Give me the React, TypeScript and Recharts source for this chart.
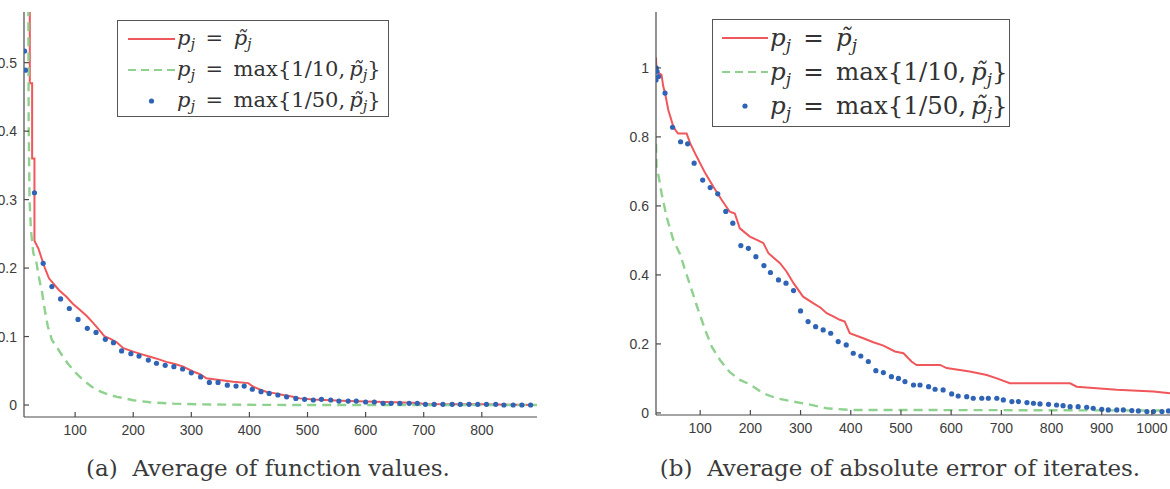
import React from 'react';
import { ComposedChart, Line, XAxis, YAxis, Legend } from 'recharts';

const RED = '#f0575a';
const GREEN = '#8fd18f';
const BLUE = '#2e63b5';
const AXIS = '#4a4a4a';
const TICK_TEXT = '#3c3c3c';
const SANS = "'Liberation Sans', 'DejaVu Sans', sans-serif";
const SERIF = "'DejaVu Serif', 'Noto Serif', serif";

// (iteration, value) pairs -- average of function values
const fnPlain = [
  [22, 0.8], [22, 0.47], [26, 0.47], [26, 0.36], [30, 0.36], [30, 0.24], [37, 0.228], [44, 0.21], [48, 0.2],
  [55, 0.185], [62, 0.178], [72, 0.168], [85, 0.158], [96, 0.148], [108, 0.139], [120, 0.13], [131, 0.12],
  [141, 0.11], [151, 0.1], [160, 0.097], [171, 0.092], [183, 0.083], [200, 0.078], [215, 0.074], [229, 0.0705],
  [243, 0.067], [257, 0.063], [272, 0.06], [286, 0.056], [303, 0.049], [315, 0.045], [326, 0.039], [345, 0.037],
  [372, 0.034], [398, 0.032], [406, 0.027], [420, 0.022], [430, 0.019], [445, 0.017], [458, 0.0146], [475, 0.012],
  [487, 0.0097], [510, 0.008], [540, 0.007], [570, 0.006], [600, 0.005], [650, 0.004], [690, 0.003], [700, 0.0015],
  [750, 0.001], [800, 0.001], [850, 0.0005], [895, 0],
];
const fnMax10 = [
  [19, 0.8], [20, 0.42], [21.5, 0.3], [24, 0.255], [28, 0.222], [33, 0.21], [38, 0.185], [43, 0.165], [48, 0.138],
  [53, 0.115], [60, 0.095], [68, 0.085], [78, 0.072], [88, 0.06], [100, 0.048], [113, 0.037], [128, 0.027],
  [143, 0.02], [158, 0.015], [172, 0.012], [200, 0.007], [229, 0.004], [270, 0.002], [315, 0.001], [400, 0.0003],
  [500, 0], [895, 0],
];
const fnMax50 = [
  [13, 0.517], [14.5, 0.489], [30, 0.31], [45, 0.207], [60, 0.173], [75, 0.155], [90, 0.141], [105, 0.125],
  [121, 0.112], [136, 0.106], [152, 0.096], [166, 0.091], [180, 0.079], [196, 0.075], [210, 0.0715], [226, 0.0657],
  [240, 0.061], [255, 0.058], [270, 0.056], [285, 0.0526], [300, 0.047], [316, 0.041], [331, 0.033], [346, 0.033],
  [362, 0.029], [377, 0.0277], [391, 0.0277], [405, 0.023], [420, 0.0195], [434, 0.017], [449, 0.0146], [464, 0.012],
  [480, 0.0097], [495, 0.0083], [510, 0.0073], [524, 0.0083], [540, 0.0073], [554, 0.0058], [570, 0.0058],
  [584, 0.0058], [600, 0.0044], [615, 0.0044], [630, 0.0024], [644, 0.0024], [659, 0.0024], [675, 0.0024],
  [689, 0.0024], [703, 0.001], [718, 0.001], [733, 0.001], [749, 0.001], [763, 0.001], [778, 0.001], [793, 0.001],
  [808, 0.001], [824, 0.001], [838, 0], [854, 0], [869, 0], [884, 0],
];

// average of absolute error of iterates
const errPlain = [
  [12, 1.03], [13, 0.99], [23, 0.98], [26.5, 0.946], [30, 0.927], [36.5, 0.878], [46.5, 0.83], [53, 0.815],
  [56, 0.81], [73, 0.81], [80, 0.782], [93, 0.743], [110, 0.695], [126, 0.656], [143, 0.617], [159, 0.583],
  [169, 0.578], [179, 0.535], [199, 0.511], [215, 0.5], [226, 0.492], [236, 0.463], [259, 0.434], [272, 0.41],
  [286, 0.376], [305, 0.337], [325, 0.318], [340, 0.305], [352, 0.289], [365, 0.28], [378, 0.27], [388, 0.265],
  [398, 0.231], [425, 0.2165], [445, 0.205], [465, 0.195], [488, 0.178], [505, 0.173], [521, 0.149], [531, 0.139],
  [578, 0.139], [591, 0.13], [637, 0.12], [671, 0.11], [691, 0.1], [717, 0.086], [837, 0.086], [850, 0.076],
  [930, 0.067], [1003, 0.062], [1036, 0.057],
];
const errMax10 = [
  [12, 0.78], [13, 0.714], [18, 0.68], [23, 0.637], [33, 0.569], [46.5, 0.501], [60, 0.46], [70, 0.414],
  [83, 0.357], [96, 0.2986], [110, 0.2406], [123, 0.192], [139.5, 0.1536], [159, 0.118], [179, 0.0957],
  [199, 0.083], [226, 0.057], [252, 0.0425], [285, 0.033], [319, 0.024], [352, 0.0135], [398, 0.0087],
  [700, 0.008], [1036, 0.007],
];
const errMax50 = [
  [12, 0.965], [12.5, 1.0], [14, 0.99], [17, 0.975], [30, 0.927], [45, 0.828], [61, 0.786], [75, 0.78],
  [88, 0.724], [105, 0.675], [120, 0.653], [135, 0.635], [151, 0.584], [165, 0.55], [181, 0.485], [196, 0.477],
  [211, 0.453], [227, 0.427], [240, 0.407], [256, 0.3855], [271, 0.376], [286, 0.3546], [300, 0.2957],
  [315, 0.2647], [330, 0.25], [345, 0.2406], [360, 0.231], [375, 0.2067], [391, 0.197], [405, 0.173],
  [420, 0.165], [435, 0.149], [450, 0.1226], [465, 0.117], [481, 0.105], [495, 0.1], [508, 0.091], [525, 0.081],
  [538, 0.081], [555, 0.076], [568, 0.0686], [584, 0.0667], [601, 0.055], [614, 0.049], [631, 0.047],
  [644, 0.0425], [661, 0.0425], [674, 0.0425], [691, 0.0425], [704, 0.0377], [721, 0.033], [734, 0.033],
  [751, 0.03], [764, 0.028], [777, 0.026], [794, 0.025], [810, 0.023], [823, 0.021], [837, 0.018], [853, 0.018],
  [870, 0.0164], [883, 0.0135], [900, 0.0106], [913, 0.0087], [930, 0.0087], [943, 0.0087], [960, 0.0068],
  [973, 0.0058], [990, 0.004], [1003, 0.004], [1020, 0.004], [1033, 0.0058],
];

const fnTicksX = [100, 200, 300, 400, 500, 600, 700, 800];
const fnTicksY = [0, 0.1, 0.2, 0.3, 0.4, 0.5];
const errTicksX = [100, 200, 300, 400, 500, 600, 700, 800, 900, 1000];
const errTicksY = [0, 0.2, 0.4, 0.6, 0.8, 1];

const toPts = (rows: number[][]) => rows.map(([x, y]) => ({ x, y }));

const TICK_MARGIN_Y = 7;
const TICK_MARGIN_X = 8;

// MATLAB-style ticks point into the plot area
const YTick = (props: any) => {
  const { x, y, payload } = props;
  const ax = x + TICK_MARGIN_Y;
  return (
    <g>
      <line x1={ax} x2={ax + 5} y1={y} y2={y} stroke={AXIS} strokeWidth={1.2} />
      <text x={x} y={y} dy="0.36em" textAnchor="end" fontSize={14} style={{ fontFamily: SANS }} fill={TICK_TEXT}>
        {String(payload.value)}
      </text>
    </g>
  );
};

const XTick = (props: any) => {
  const { x, y, payload } = props;
  const ay = y - TICK_MARGIN_X;
  return (
    <g>
      <line x1={x} x2={x} y1={ay} y2={ay - 5} stroke={AXIS} strokeWidth={1.2} />
      <text x={x} y={y} dy="0.72em" textAnchor="middle" fontSize={14} style={{ fontFamily: SANS }} fill={TICK_TEXT}>
        {String(payload.value)}
      </text>
    </g>
  );
};

const subStyle: React.CSSProperties = { fontSize: '0.7em', verticalAlign: '-0.3em', lineHeight: 0 };

const P = () => (
  <>
    <i>p</i>
    <sub style={subStyle}><i>j</i></sub>
  </>
);
const PT = () => (
  <>
    <i>p&#x0303;</i>
    <sub style={subStyle}><i>j</i></sub>
  </>
);

const labels = [
  <><P />&ensp;=&ensp;<PT /></>,
  <><P />&ensp;=&ensp;max{'{'}1/10,&thinsp;<PT />{'}'}</>,
  <><P />&ensp;=&ensp;max{'{'}1/50,&thinsp;<PT />{'}'}</>,
];

type BoxSpec = { width: number; height: number; rowH: number; padTop: number; fontSize: number; sampleW: number; padLeft: number };

const Sample = ({ kind, w }: { kind: number; w: number }) => (
  <svg width={w} height={12} style={{ display: 'block', flex: 'none' }}>
    {kind === 0 && <line x1={0} x2={w} y1={6} y2={6} stroke={RED} strokeWidth={2} />}
    {kind === 1 && <line x1={0} x2={w} y1={6} y2={6} stroke={GREEN} strokeWidth={2} strokeDasharray="8 5" />}
    {kind === 2 && <circle cx={w / 2} cy={6} r={2.6} fill={BLUE} />}
  </svg>
);

const LegendBox = ({ spec }: { spec: BoxSpec }) => (
  <div
    style={{
      width: spec.width,
      height: spec.height,
      boxSizing: 'border-box',
      border: '1.5px solid #555',
      background: '#fff',
      paddingTop: spec.padTop,
      paddingLeft: spec.padLeft,
      fontFamily: SERIF,
      fontSize: spec.fontSize,
      color: '#333',
    }}
  >
    {labels.map((lab, i) => (
      <div key={i} style={{ height: spec.rowH, display: 'flex', alignItems: 'center', whiteSpace: 'nowrap' }}>
        <Sample kind={i} w={spec.sampleW} />
        <span style={{ marginLeft: 2, lineHeight: 1, fontFamily: SERIF }}>{lab}</span>
      </div>
    ))}
  </div>
);

type PanelProps = {
  left: number;
  width: number;
  height: number;
  yAxisW: number;
  plotBottom: number;
  xDomain: [number, number];
  yDomain: [number, number];
  xTicks: number[];
  yTicks: number[];
  plain: number[][];
  max10: number[][];
  max50: number[][];
  legendPos: { left: number; top: number };
  legendSpec: BoxSpec;
  marginRight: number;
};

const Panel = (p: PanelProps) => (
  <div style={{ position: 'absolute', left: p.left, top: 0 }}>
    <ComposedChart width={p.width} height={p.height} margin={{ top: 12, right: p.marginRight, left: 0, bottom: 0 }}>
      <XAxis
        type="number"
        dataKey="x"
        domain={p.xDomain}
        ticks={p.xTicks}
        allowDataOverflow
        height={p.height - p.plotBottom}
        tickSize={0}
        tickMargin={TICK_MARGIN_X}
        tickLine={false}
        tick={<XTick />}
        axisLine={{ stroke: AXIS, strokeWidth: 1.2 }}
      />
      <YAxis
        type="number"
        dataKey="y"
        domain={p.yDomain}
        ticks={p.yTicks}
        allowDataOverflow
        width={p.yAxisW}
        tickSize={0}
        tickMargin={TICK_MARGIN_Y}
        tickLine={false}
        tick={<YTick />}
        axisLine={{ stroke: AXIS, strokeWidth: 1.2 }}
      />
      <Line data={toPts(p.plain)} dataKey="y" type="linear" stroke={RED} strokeWidth={2} dot={false} isAnimationActive={false} />
      <Line
        data={toPts(p.max10)}
        dataKey="y"
        type="linear"
        stroke={GREEN}
        strokeWidth={2.4}
        strokeDasharray="9 6"
        dot={false}
        isAnimationActive={false}
      />
      <Line
        data={toPts(p.max50)}
        dataKey="y"
        type="linear"
        stroke="none"
        dot={{ r: 2.6, fill: BLUE, stroke: 'none', strokeWidth: 0 }}
        isAnimationActive={false}
      />
      <Legend
        layout="horizontal"
        verticalAlign="middle"
        align="center"
        content={() => <LegendBox spec={p.legendSpec} />}
        wrapperStyle={{ position: 'absolute', left: p.legendPos.left, top: p.legendPos.top, width: 'auto', height: 'auto' }}
      />
    </ComposedChart>
  </div>
);

const captionStyle: React.CSSProperties = {
  position: 'absolute',
  top: 455,
  fontFamily: SERIF,
  fontSize: 23,
  lineHeight: '26px',
  color: '#3a3a3a',
  whiteSpace: 'nowrap',
  transform: 'translateX(-50%)',
};

export default function App() {
  return (
    <div style={{ position: 'absolute', left: 0, top: 0, width: 1170, height: 489, background: '#fff', overflow: 'hidden' }}>
      <Panel
        left={0}
        width={560}
        height={445}
        yAxisW={24}
        plotBottom={417}
        marginRight={23}
        xDomain={[12, 895]}
        yDomain={[-0.0175, 0.574]}
        xTicks={fnTicksX}
        yTicks={fnTicksY}
        plain={fnPlain}
        max10={fnMax10}
        max50={fnMax50}
        legendPos={{ left: 117, top: 20 }}
        legendSpec={{ width: 272, height: 97, rowH: 31, padTop: 2, fontSize: 21, sampleW: 47, padLeft: 10 }}
      />
      <Panel
        left={600}
        width={570}
        height={445}
        yAxisW={56}
        plotBottom={415}
        marginRight={0}
        xDomain={[12, 1036]}
        yDomain={[-0.006, 1.162]}
        xTicks={errTicksX}
        yTicks={errTicksY}
        plain={errPlain}
        max10={errMax10}
        max50={errMax50}
        legendPos={{ left: 112, top: 19 }}
        legendSpec={{ width: 298, height: 108, rowH: 34, padTop: 1, fontSize: 24.5, sampleW: 46, padLeft: 9 }}
      />
      <div style={{ ...captionStyle, left: 268 }}>(a)&nbsp; Average of function values.</div>
      <div style={{ ...captionStyle, left: 900 }}>(b)&nbsp; Average of absolute error of iterates.</div>
    </div>
  );
}
